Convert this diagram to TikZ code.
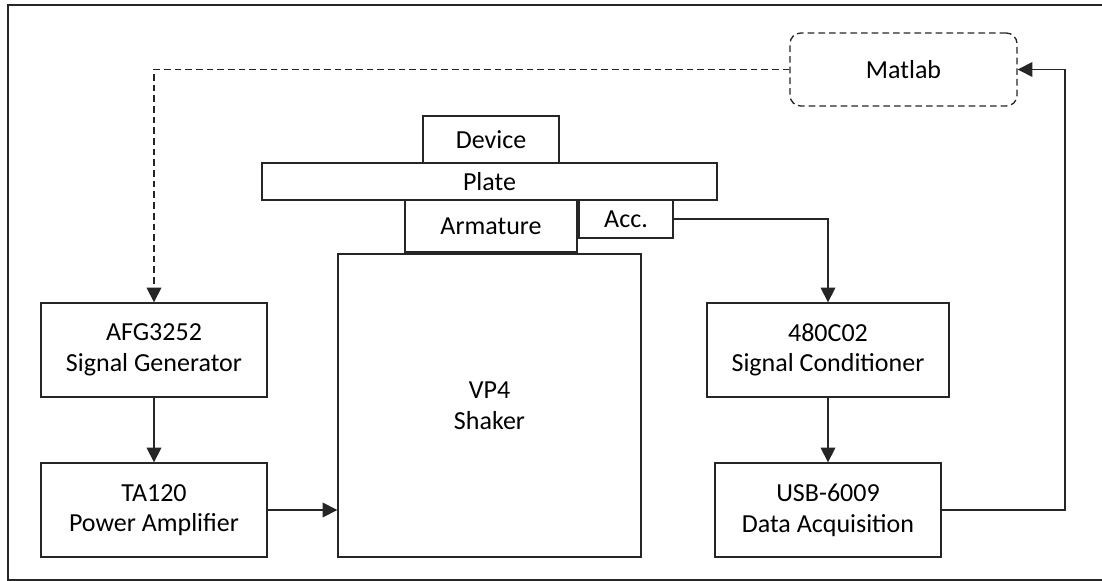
\documentclass[tikz,border=0pt]{standalone}
\usepackage{fontspec}
\setmainfont{Carlito}
\usetikzlibrary{arrows.meta,positioning,shapes}

\begin{document}
\begin{tikzpicture}[x=0.75pt, y=-0.75pt, line width=1pt, draw=black!85]

   \tikzstyle{block}=[rectangle, draw=black!85, line width=1pt, text=black, align=center, inner sep=0pt, font=\fontsize{19.5}{23}\selectfont]
   \tikzstyle{unit}=[block, minimum width=169.5pt, minimum height=70.5pt]
   \tikzstyle{part}=[block]
   \tikzstyle{soft}=[block, dashed, dash pattern=on 5pt off 3pt, rounded corners=8pt, minimum width=170.25pt, minimum height=54.75pt]
   \tikzstyle{link}=[draw=black!85, line width=1pt, -{Triangle[length=11pt, width=11pt]}]

   \useasboundingbox (0,0) rectangle (1102,581);
   % frame
   \draw[black!85] (1102,5) -- (8,5) -- (8,580) -- (1102,580);

   % left chain
   \node[unit] (afg) at (154,350) {AFG3252\\Signal Generator};
   \node[unit] (ta)  at (154,510) {TA120\\Power Amplifier};

   % shaker stack
   \node[block, minimum width=227.25pt, minimum height=227.25pt] (shaker) at (489.5,405.5) {VP4\\Shaker};
   \node[part, minimum width=341.25pt, minimum height=27.75pt] (plate) at (489.5,181.5) {Plate};
   \node[part, minimum width=102pt, minimum height=35.25pt] (device) at (491,139.5) {Device};
   \node[part, minimum width=129pt, minimum height=39pt] (armature) at (491,226) {Armature};
   \node[part, minimum width=70.5pt, minimum height=28.5pt] (acc) at (626,219) {Acc.};

   % right chain
   \node[unit, minimum width=181.5pt] (cond) at (828,350) {480C02\\Signal Conditioner};
   \node[unit] (daq) at (828,510) {USB-6009\\Data Acquisition};

   \node[soft] (matlab) at (903.5,69.5) {Matlab};
   \coordinate (ret) at (1065,510);

   % connections
   \draw[link, dashed, dash pattern=on 5pt off 3pt] (matlab.west) -| (afg.north);
   \draw[link] (afg) -- (ta);
   \draw[link] (ta.east) -- (ta.east -| shaker.west);
   \draw[link] (acc.east) -| (cond.north);
   \draw[link] (cond) -- (daq);
   \draw[link] (daq.east) -- (ret) |- (matlab.east);
\end{tikzpicture}
\end{document}
